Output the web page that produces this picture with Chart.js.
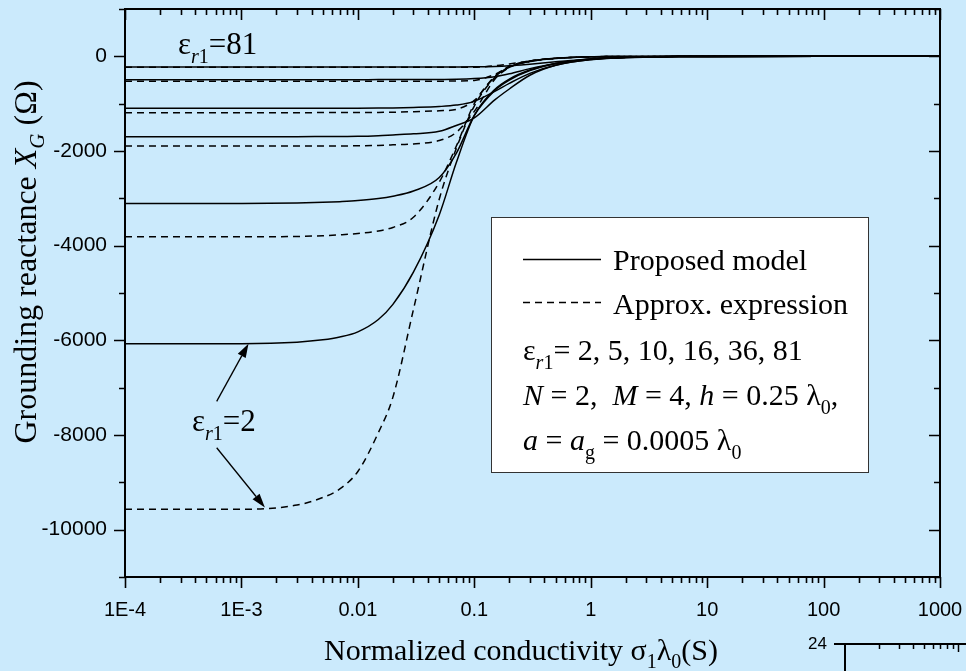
<!DOCTYPE html>
<html>
<head>
<meta charset="utf-8">
<title>Grounding reactance</title>
<script src="https://cdn.jsdelivr.net/npm/chart.js@4.4.1/dist/chart.umd.min.js"></script>
<style>
  html, body { margin: 0; padding: 0; background: #cbeafc; }
  #wrap { width: 966px; height: 671px; position: relative; }
</style>
</head>
<body>
<div id="wrap"><canvas id="myChart"></canvas></div>
<script>
// normalized conductivity sigma1*lambda0 (S)
const conductivity = [1e-4, 1e-3, 3e-3, 5e-3, 7e-3, 0.01, 0.015, 0.02, 0.03, 0.05, 0.07, 0.1, 0.15, 0.2, 0.3, 0.5, 1, 2, 5, 10, 100, 1000];

// grounding reactance X_G (ohm), proposed model (solid)
const proposed2  = [-6070, -6070, -6040, -5990, -5930, -5820, -5560, -5240, -4560, -3350, -2250, -1250, -700, -480, -290, -150, -55, -18, -4, -1, 0, 0];
const proposed5  = [-3110, -3110, -3100, -3085, -3070, -3048, -3005, -2955, -2845, -2560, -2050, -1250, -720, -500, -300, -150, -58, -19, -4, -1, 0, 0];
const proposed10 = [-1698, -1698, -1697, -1695, -1694, -1690, -1676, -1660, -1638, -1585, -1460, -1300, -920, -690, -400, -190, -70, -28, -6, -2, 0, 0];
const proposed16 = [-1099, -1099, -1099, -1098, -1098, -1097, -1094, -1090, -1080, -1060, -1030, -951, -740, -571, -360, -190, -68, -26, -6, -2, 0, 0];
const proposed36 = [-493, -493, -493, -493, -493, -493, -492, -492, -491, -488, -485, -470, -430, -370, -260, -150, -60, -22, -5, -2, 0, 0];
const proposed81 = [-226, -226, -226, -226, -226, -226, -226, -226, -226, -225, -224, -222, -215, -200, -165, -115, -55, -20, -5, -1, 0, 0];

// approx. expression (dashed)
const approx2  = [-9570, -9570, -9480, -9320, -9140, -8770, -7950, -7200, -5350, -3020, -1950, -1050, -450, -230, -110, -45, -10, -3, -1, 0, 0, 0];
const approx5  = [-3812, -3812, -3805, -3790, -3770, -3742, -3690, -3615, -3400, -2660, -1900, -1000, -440, -230, -110, -45, -10, -3, -1, 0, 0, 0];
const approx10 = [-1896, -1896, -1895, -1894, -1893, -1890, -1882, -1870, -1850, -1780, -1607, -1163, -486, -233, -106, -45, -12, -3, -1, 0, 0, 0];
const approx16 = [-1190, -1190, -1190, -1189, -1189, -1188, -1185, -1180, -1170, -1150, -1120, -930, -420, -211, -100, -40, -10, -3, -1, 0, 0, 0];
const approx36 = [-529, -529, -529, -529, -529, -529, -528, -528, -527, -525, -522, -510, -380, -220, -100, -42, -10, -3, -1, 0, 0, 0];
const approx81 = [-233, -233, -233, -233, -233, -233, -233, -233, -233, -233, -232, -230, -200, -160, -95, -40, -10, -3, -1, 0, 0, 0];

const xTickValues = [1e-4, 1e-3, 0.01, 0.1, 1, 10, 100, 1000];
const xTickLabels = ['1E-4', '1E-3', '0.01', '0.1', '1', '10', '100', '1000'];
const yTickValues = [-10000, -8000, -6000, -4000, -2000, 0];
const yTickLabels = ['-10000', '-8000', '-6000', '-4000', '-2000', '0'];

const BG = '#cbeafc';
const SERIF = '"Liberation Serif", "Times New Roman", serif';
const SANS = '"Liberation Sans", Arial, sans-serif';

function series(values, dashed) {
    return {
        data: conductivity.map((x, i) => ({ x: x, y: values[i] })),
        borderColor: '#000',
        borderWidth: 1.5,
        borderDash: dashed ? [7, 5] : [],
        pointRadius: 0,
        fill: false,
        cubicInterpolationMode: 'monotone'
    };
}

// draw text made of pieces (italic, subscripts)
function drawRich(ctx, parts, x, y, align) {
    let total = 0;
    for (const p of parts) {
        ctx.font = (p.style || '') + ' ' + (p.size || 30) + 'px ' + SERIF;
        p.w = ctx.measureText(p.t).width;
        total += p.w;
    }
    let cx = align === 'center' ? x - total / 2 : x;
    ctx.textAlign = 'left';
    ctx.textBaseline = 'alphabetic';
    for (const p of parts) {
        ctx.font = (p.style || '') + ' ' + (p.size || 30) + 'px ' + SERIF;
        ctx.fillText(p.t, cx, y + (p.dy || 0));
        cx += p.w;
    }
}

function arrow(ctx, x1, y1, x2, y2) {
    const ang = Math.atan2(y2 - y1, x2 - x1);
    const len = 14, half = 4.5;
    const bx = x2 - len * Math.cos(ang), by = y2 - len * Math.sin(ang);
    ctx.beginPath();
    ctx.moveTo(x1, y1);
    ctx.lineTo(bx, by);
    ctx.stroke();
    ctx.beginPath();
    ctx.moveTo(x2, y2);
    ctx.lineTo(bx + half * Math.sin(ang), by - half * Math.cos(ang));
    ctx.lineTo(bx - half * Math.sin(ang), by + half * Math.cos(ang));
    ctx.closePath();
    ctx.fill();
}

const eps = (size, sub) => [
    { t: 'ε', size: size },
    { t: 'r', style: 'italic', size: sub, dy: 9 },
    { t: '1', size: sub, dy: 9 }
];

function noOverhang(scale) {
    scale.paddingLeft = 0;
    scale.paddingRight = 0;
    scale.paddingTop = 0;
    scale.paddingBottom = 0;
}

const bgPlugin = {
    id: 'bg',
    beforeDraw(chart) {
        const ctx = chart.ctx;
        ctx.save();
        ctx.fillStyle = BG;
        ctx.fillRect(0, 0, chart.width, chart.height);
        ctx.restore();
    }
};

const decorPlugin = {
    id: 'decor',
    afterDraw(chart) {
        const ctx = chart.ctx;
        const a = chart.chartArea;
        const xs = chart.scales.x, ys = chart.scales.y;
        ctx.save();
        ctx.strokeStyle = '#000';
        ctx.fillStyle = '#000';

        // frame
        ctx.lineWidth = 2;
        ctx.strokeRect(a.left, a.top, a.right - a.left, a.bottom - a.top);

        // x ticks (bottom outward, top inward)
        ctx.lineWidth = 1.6;
        ctx.beginPath();
        for (let d = -4; d <= 3; d++) {
            for (let k = 1; k <= 9; k++) {
                const v = k * Math.pow(10, d);
                if (v > 1000 * 1.0001) break;
                const px = Math.round(xs.getPixelForValue(v)) + 0.5;
                const len = k === 1 ? 11 : 6;
                ctx.moveTo(px, a.bottom);
                ctx.lineTo(px, a.bottom + len);
                ctx.moveTo(px, a.top);
                ctx.lineTo(px, a.top + len);
            }
        }
        // y ticks (left outward, right inward)
        for (let v = -11000; v <= 1000; v += 1000) {
            const py = Math.round(ys.getPixelForValue(v)) + 0.5;
            const len = (v % 2000 === 0) ? 11 : 6;
            ctx.moveTo(a.left, py);
            ctx.lineTo(a.left - len, py);
            ctx.moveTo(a.right, py);
            ctx.lineTo(a.right - len, py);
        }
        ctx.stroke();

        // axis titles
        drawRich(ctx, [
            { t: 'Normalized conductivity ' },
            { t: 'σ' }, { t: '1', size: 20, dy: 8 },
            { t: 'λ' }, { t: '0', size: 20, dy: 8 },
            { t: '(S)' }
        ], 521, 660, 'center');

        ctx.save();
        ctx.translate(36, 262);
        ctx.rotate(-Math.PI / 2);
        drawRich(ctx, [
            { t: 'Grounding reactance ', size: 32 },
            { t: 'X', style: 'italic', size: 32 },
            { t: 'G', style: 'italic', size: 21, dy: 8 },
            { t: ' (Ω)', size: 32 }
        ], 0, 0, 'center');
        ctx.restore();

        // annotations
        drawRich(ctx, eps(31, 20).concat([{ t: '=81', size: 31 }]),
            xs.getPixelForValue(0.000285), ys.getPixelForValue(40), 'left');
        drawRich(ctx, eps(31, 20).concat([{ t: '=2', size: 31 }]),
            xs.getPixelForValue(0.000376), ys.getPixelForValue(-7910), 'left');

        ctx.lineWidth = 1.3;
        arrow(ctx, xs.getPixelForValue(0.000613), ys.getPixelForValue(-7290),
            xs.getPixelForValue(0.00115), ys.getPixelForValue(-6070));
        arrow(ctx, xs.getPixelForValue(0.000613), ys.getPixelForValue(-8270),
            xs.getPixelForValue(0.00159), ys.getPixelForValue(-9530));

        // legend box
        const bx = a.left + 366, by = a.top + 208, bw = 377, bh = 255;
        ctx.fillStyle = '#fff';
        ctx.fillRect(bx, by, bw, bh);
        ctx.lineWidth = 1;
        ctx.strokeStyle = '#333';
        ctx.strokeRect(bx + 0.5, by + 0.5, bw, bh);
        ctx.strokeStyle = '#000';
        ctx.fillStyle = '#000';
        ctx.lineWidth = 1.4;
        ctx.beginPath();
        ctx.moveTo(bx + 32, by + 42.5);
        ctx.lineTo(bx + 110, by + 42.5);
        ctx.stroke();
        ctx.setLineDash([7, 5]);
        ctx.beginPath();
        ctx.moveTo(bx + 32, by + 85.5);
        ctx.lineTo(bx + 110, by + 85.5);
        ctx.stroke();
        ctx.setLineDash([]);
        const tx = bx + 122, lx = bx + 32;
        drawRich(ctx, [{ t: 'Proposed model' }], tx, by + 53, 'left');
        drawRich(ctx, [{ t: 'Approx. expression' }], tx, by + 97, 'left');
        drawRich(ctx, eps(30, 20).concat([{ t: '= 2, 5, 10, 16, 36, 81' }]), lx, by + 143, 'left');
        drawRich(ctx, [
            { t: 'N', style: 'italic' }, { t: ' = 2,  ' },
            { t: 'M', style: 'italic' }, { t: ' = 4, ' },
            { t: 'h', style: 'italic' }, { t: ' = 0.25 λ' },
            { t: '0', size: 20, dy: 9 }, { t: ',' }
        ], lx, by + 188, 'left');
        drawRich(ctx, [
            { t: 'a', style: 'italic' }, { t: ' = ' },
            { t: 'a', style: 'italic' }, { t: 'g', size: 20, dy: 9 },
            { t: ' = 0.0005 λ' }, { t: '0', size: 20, dy: 9 }
        ], lx, by + 233, 'left');

        // piece of the next figure peeking in at the bottom right
        const W = chart.width, H = chart.height;
        ctx.lineWidth = 2;
        ctx.beginPath();
        ctx.moveTo(W - 132, H - 27);
        ctx.lineTo(W - 121, H - 27);
        ctx.moveTo(W - 121, H);
        ctx.lineTo(W - 121, H - 27);
        ctx.lineTo(W, H - 27);
        ctx.stroke();
        ctx.lineWidth = 1.5;
        ctx.beginPath();
        for (let k = 2; k <= 10; k++) {
            const px = Math.round(W - 121 + 113 * Math.log10(k)) + 0.5;
            ctx.moveTo(px, H - 27);
            ctx.lineTo(px, H - 27 + (k === 10 ? 8 : 5));
        }
        ctx.stroke();
        ctx.font = '17px ' + SANS;
        ctx.textAlign = 'right';
        ctx.textBaseline = 'middle';
        ctx.fillText('24', W - 139, H - 27);
        ctx.restore();
    }
};

const ctx = document.getElementById('myChart').getContext('2d');

const myChart = new Chart(ctx, { // eslint-disable-line
    type: 'line',
    data: {
        datasets: [
            series(proposed2), series(approx2, true),
            series(proposed5), series(approx5, true),
            series(proposed10), series(approx10, true),
            series(proposed16), series(approx16, true),
            series(proposed36), series(approx36, true),
            series(proposed81), series(approx81, true)
        ]
    },
    options: {
        responsive: true,
        maintainAspectRatio: false,
        animation: false,
        events: [],
        layout: { padding: { left: 0, right: 26, top: 9, bottom: 0 } },
        plugins: {
            legend: { display: false },
            tooltip: { enabled: false },
            title: { display: false }
        },
        scales: {
            x: {
                type: 'logarithmic',
                min: 1e-4,
                max: 1000,
                grid: { display: false },
                border: { display: false },
                afterBuildTicks: (scale) => {
                    scale.ticks = xTickValues.map(v => ({ value: v }));
                },
                afterFit: (scale) => { scale.height = 94; noOverhang(scale); },
                ticks: {
                    autoSkip: false,
                    maxRotation: 0,
                    padding: 13,
                    color: '#000',
                    font: { family: SANS, size: 20 },
                    callback: (value, index) => xTickLabels[index]
                }
            },
            y: {
                min: -11000,
                max: 1000,
                grid: { display: false },
                border: { display: false },
                afterBuildTicks: (scale) => {
                    scale.ticks = yTickValues.map(v => ({ value: v }));
                },
                afterFit: (scale) => { scale.width = 125; noOverhang(scale); },
                ticks: {
                    padding: 10,
                    color: '#000',
                    font: { family: SANS, size: 21 },
                    callback: (value, index) => yTickLabels[index]
                }
            }
        }
    },
    plugins: [bgPlugin, decorPlugin]
});
</script>
</body>
</html>
